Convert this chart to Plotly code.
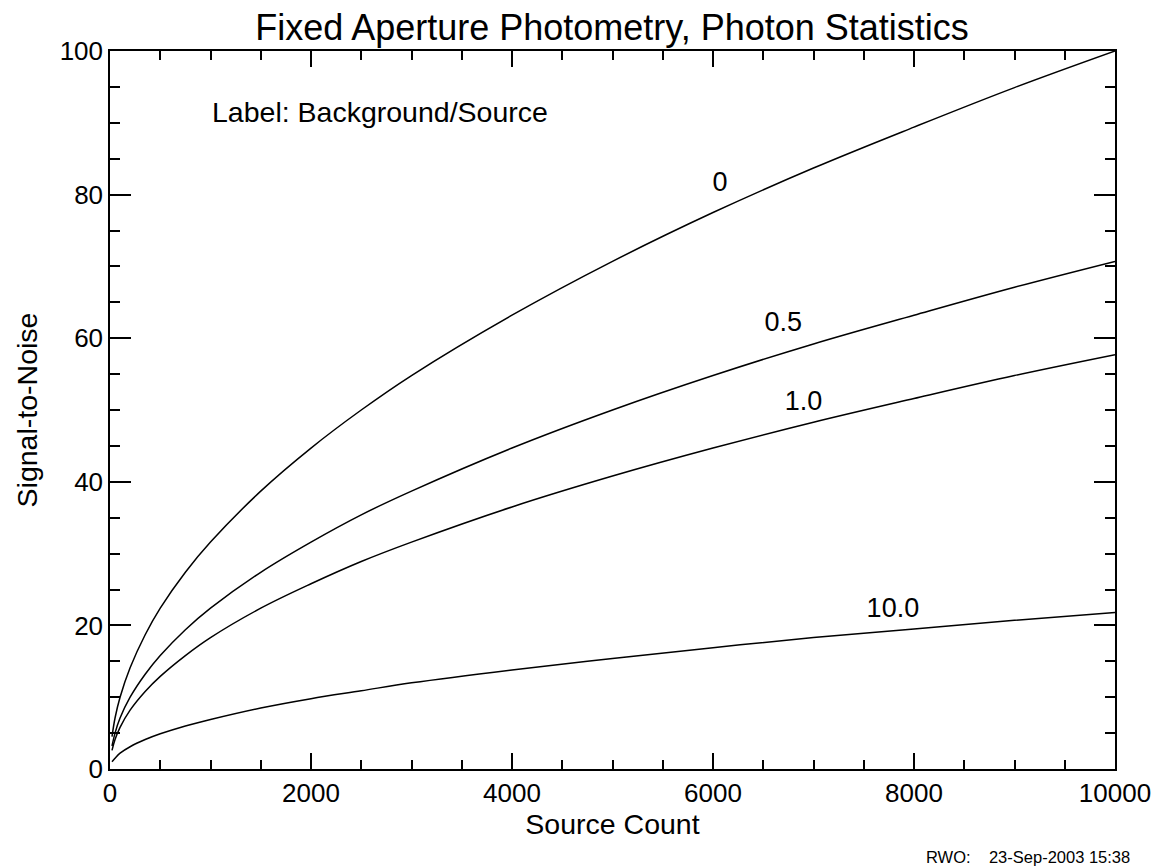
import plotly.graph_objects as go

# Source counts (x) and signal-to-noise
source_count = [20, 50, 100, 200, 350, 500, 750, 1000, 1500, 2000, 2500, 3000,
                4000, 5000, 6000, 7000, 8000, 9000, 10000]
sn_bg_0 = [4.5, 7.1, 10.0, 14.1, 18.7, 22.4, 27.4, 31.6, 38.7, 44.7, 50.0, 54.8,
           63.2, 70.7, 77.5, 83.7, 89.4, 94.9, 100.0]
sn_bg_05 = [3.2, 5.0, 7.1, 10.0, 13.2, 15.8, 19.4, 22.4, 27.4, 31.6, 35.4, 38.7,
            44.7, 50.0, 54.8, 59.2, 63.2, 67.1, 70.7]
sn_bg_1 = [2.6, 4.1, 5.8, 8.2, 10.8, 12.9, 15.8, 18.3, 22.4, 25.8, 28.9, 31.6,
           36.5, 40.8, 44.7, 48.3, 51.6, 54.8, 57.7]
sn_bg_10 = [1.0, 1.5, 2.2, 3.1, 4.1, 4.9, 6.0, 6.9, 8.5, 9.8, 10.9, 12.0,
            13.8, 15.4, 16.9, 18.3, 19.5, 20.7, 21.8]

curve_labels = ["0", "0.5", "1.0", "10.0"]
label_x = [6070, 6700, 6900, 7790]
label_y = [81.4, 61.9, 51.0, 22.1]

x_ticks = [0, 2000, 4000, 6000, 8000, 10000]
y_ticks = [0, 20, 40, 60, 80, 100]

FONT = "Liberation Sans, Arial, Helvetica, sans-serif"

fig = go.Figure()
for ys in [sn_bg_0, sn_bg_05, sn_bg_1, sn_bg_10]:
    fig.add_trace(go.Scatter(x=source_count, y=ys, mode="lines",
                             line=dict(color="black", width=1.5, shape="spline"),
                             showlegend=False, hoverinfo="skip"))

fig.add_trace(go.Scatter(x=label_x, y=label_y, mode="text", text=curve_labels,
                         textfont=dict(family=FONT, size=27, color="black"),
                         textposition="middle center", showlegend=False,
                         hoverinfo="skip"))

fig.add_annotation(x=0.0995, y=0.915, xref="paper", yref="paper",
                   text="Label: Background/Source", showarrow=False,
                   xanchor="left", yanchor="middle",
                   font=dict(family=FONT, size=28.5, color="black"))

fig.add_annotation(x=1.017, y=-0.1226, xref="paper", yref="paper",
                   text="RWO:&nbsp;&nbsp;&nbsp;&nbsp;23-Sep-2003 15:38",
                   showarrow=False, xanchor="right", yanchor="middle",
                   font=dict(family=FONT, size=16.5, color="black"))

axis_common = dict(showgrid=False, zeroline=False, showline=True,
                   linecolor="black", linewidth=1.5, mirror="ticks",
                   ticks="inside", tickcolor="black", tickwidth=1.5,
                   tickfont=dict(family=FONT, size=26, color="black"))

fig.update_xaxes(range=[0, 10000], tickvals=x_ticks,
                 ticktext=[str(v) for v in x_ticks], ticklen=16,
                 minor=dict(dtick=500, ticklen=9, tickcolor="black", tickwidth=1.5,
                            ticks="inside", showgrid=False),
                 title=dict(text="Source Count", standoff=0,
                            font=dict(family=FONT, size=28.5, color="black")),
                 **axis_common)
fig.update_yaxes(range=[0, 100], tickvals=y_ticks,
                 ticktext=[str(v) for v in y_ticks], ticklen=21,
                 minor=dict(dtick=5, ticklen=10, tickcolor="black", tickwidth=1.5,
                            ticks="inside", showgrid=False),
                 title=dict(text="Signal-to-Noise", standoff=14,
                            font=dict(family=FONT, size=28.5, color="black")),
                 **axis_common)

fig.update_layout(
    width=1168, height=867,
    margin=dict(l=102, r=61, t=43, b=106),
    paper_bgcolor="white", plot_bgcolor="white",
    title=dict(text="Fixed Aperture Photometry, Photon Statistics",
               x=604 / 1168, xanchor="center",
               y=1 - 19 / 867, yanchor="middle",
               font=dict(family=FONT, size=36, color="black")),
)

fig.write_html("out.html")
